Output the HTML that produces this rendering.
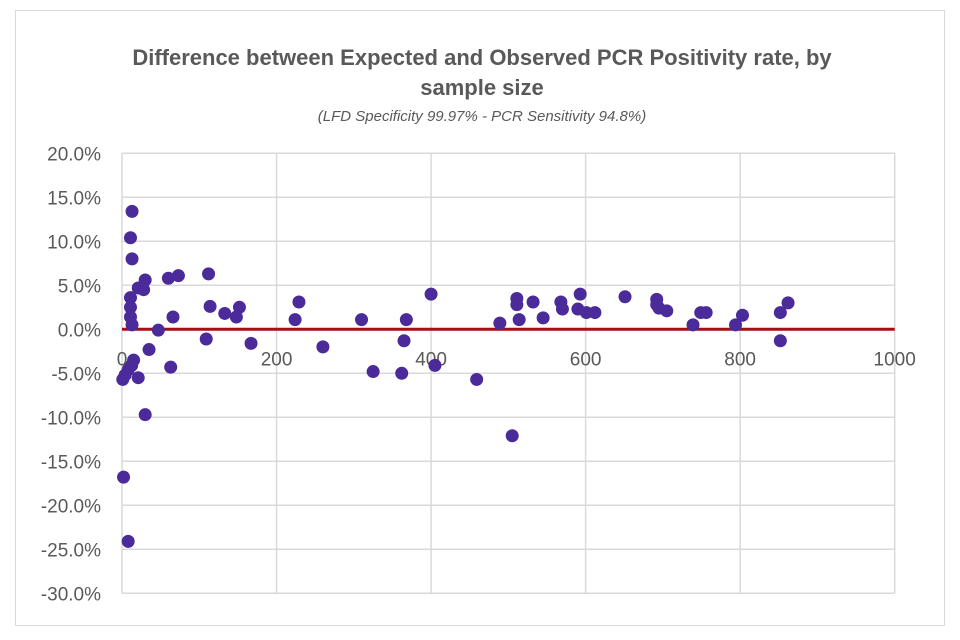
<!DOCTYPE html>
<html><head><meta charset="utf-8"><style>
body{margin:0;background:#fff;}
svg{display:block;font-family:"Liberation Sans",sans-serif;}
</style></head><body>
<svg id="chart" width="960" height="640">
<rect x="15.5" y="10.5" width="929" height="615" fill="#fff" stroke="#d9d9d9"/>
<text x="482" y="65" text-anchor="middle" font-size="22" font-weight="bold" fill="#595959">Difference between Expected and Observed PCR Positivity rate, by</text>
<text x="482" y="95" text-anchor="middle" font-size="22" font-weight="bold" fill="#595959">sample size</text>
<text x="482" y="121" text-anchor="middle" font-size="15" font-style="italic" fill="#595959">(LFD Specificity 99.97% - PCR Sensitivity 94.8%)</text>
<g id="grid"></g><g id="axes"></g><g id="marks"></g>
</svg>
<script>
const xs=[13,11,13,30,21,28,11,11,11,13,60,73,112,114,133,152,148,66,47,109,167,35,63,15,12.5,8,4,1,21,30,2,8,
229,224,260,310,325,362,365,368,400,405,459,489,505,511,511,514,532,545,568,570,590,593,601,612,
651,692,692,695,705,739,749,756,794,803,852,862,852];
const ys=[13.4,10.4,8.0,5.6,4.7,4.5,3.6,2.5,1.4,0.5,5.8,6.1,6.3,2.6,1.8,2.5,1.4,1.4,-0.1,-1.1,-1.6,-2.3,-4.3,-3.5,-4.1,-4.6,-5.2,-5.7,-5.5,-9.7,-16.8,-24.1,
3.1,1.1,-2.0,1.1,-4.8,-5.0,-1.3,1.1,4.0,-4.1,-5.7,0.7,-12.1,3.5,2.8,1.1,3.1,1.3,3.1,2.3,2.3,4.0,1.9,1.9,
3.7,3.4,2.8,2.4,2.1,0.5,1.9,1.9,0.5,1.6,1.9,3.0,-1.3];
const xTicks=[0,200,400,600,800,1000];
const yTicks=[20,15,10,5,0,-5,-10,-15,-20,-25,-30];
const NS="http://www.w3.org/2000/svg";
const X=v=>122+v*0.7727, Y=v=>329.3-v*8.8;
const grid=document.getElementById('grid'),axes=document.getElementById('axes'),marks=document.getElementById('marks');
function mk(tag,a,p){const e=document.createElementNS(NS,tag);for(const k in a)e.setAttribute(k,a[k]);p.appendChild(e);return e;}
yTicks.forEach(t=>{
 const l=mk('line',{x1:X(0),x2:X(1000),y1:Y(t),y2:Y(t),stroke:'#d9d9d9','stroke-width':1.5},grid);
 
 
 const tx=mk('text',{x:101,y:Y(t)+7,'text-anchor':'end','font-size':19,fill:'#595959'},axes);
 tx.textContent=t.toFixed(1)+'%';
 
 
});
xTicks.forEach(t=>{
 const l=mk('line',{x1:X(t),x2:X(t),y1:Y(20),y2:Y(-30),stroke:'#d9d9d9','stroke-width':1.5},grid);
 
 
 const tx=mk('text',{x:X(t),y:Y(0)+36,'text-anchor':'middle','font-size':19,fill:'#595959'},axes);
 tx.textContent=t;
 
 
});
const zl=mk('line',{x1:X(0),x2:X(1000),y1:Y(0),y2:Y(0),stroke:'#a50f15','stroke-width':3},marks);


xs.forEach((x,i)=>{
 const c=mk('circle',{cx:X(x),cy:Y(ys[i]),r:6.5,fill:'#4b2a99'},marks);
 
 
});
</script>
</body></html>
